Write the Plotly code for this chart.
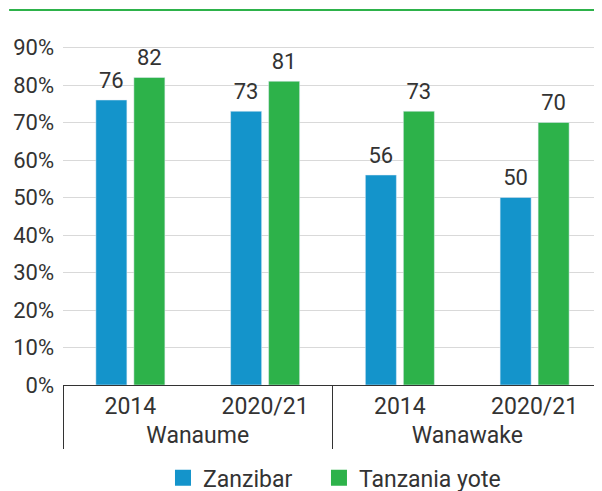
import plotly.graph_objects as go

groups = ["Wanaume", "Wanaume", "Wanawake", "Wanawake"]
years = ["2014", "2020/21", "2014", "2020/21"]
zanzibar = [76, 73, 56, 50]
tanzania = [82, 81, 73, 70]
series_names = ["Zanzibar", "Tanzania yote"]
y_ticks = [0, 10, 20, 30, 40, 50, 60, 70, 80, 90]
y_ticklabels = [f"{v}%" for v in y_ticks]

BLUE = "#1494CB"
GREEN = "#2DB24A"
TXT = "#333333"
FONT = "Roboto"
NUM = 22
WORD = 23

fig = go.Figure()
series = [(series_names[0], zanzibar, BLUE, "a"), (series_names[1], tanzania, GREEN, "b")]
for name, vals, col, og in series:
    fig.add_trace(go.Bar(x=[groups, years], y=vals, name=name,
                         marker_color=col, offsetgroup=og,
                         showlegend=False))
for name, vals, col, og in series:
    fig.add_trace(go.Scatter(x=[groups, years], y=vals, mode="markers+text",
                             offsetgroup=og, text=[str(v) for v in vals],
                             textposition="top center", cliponaxis=False,
                             marker=dict(size=9, opacity=0),
                             textfont=dict(size=NUM, color=TXT, family=FONT),
                             showlegend=False, hoverinfo="skip"))
# legend entries with square swatches, one legend box each
for (name, col), lg in zip([(series_names[0], BLUE), (series_names[1], GREEN)], ["legend", "legend2"]):
    fig.add_trace(go.Scatter(x=[None], y=[None], mode="markers", name=name,
                             marker=dict(symbol="square", size=16, color=col),
                             showlegend=True, legend=lg))

leg_common = dict(orientation="h", xanchor="left", y=-0.269, yanchor="middle",
                  font=dict(size=WORD, color=TXT), itemwidth=30)

fig.update_layout(
    width=602, height=491,
    margin=dict(l=55, r=8, t=32, b=114, autoexpand=False),
    paper_bgcolor="white", plot_bgcolor="white",
    font=dict(family=FONT, size=WORD, color=TXT),
    barmode="group", bargap=0.436, bargroupgap=0.184,
    scattermode="group", scattergap=0.436,
    showlegend=True,
    legend=dict(x=0.1855, **leg_common),
    legend2=dict(x=0.4749, **leg_common),
    xaxis=dict(type="multicategory", showline=True, linecolor=TXT, linewidth=1,
               showdividers=True, dividercolor=TXT, dividerwidth=1,
               automargin=False,
               tickfont=dict(size=WORD, color=TXT, family=FONT), ticks=""),
    yaxis=dict(range=[0, 92], tickvals=y_ticks, ticktext=y_ticklabels,
               showgrid=True, gridcolor="#D9D9D9", gridwidth=1,
               zeroline=False, showline=False, ticks="",
               ticklabelstandoff=8, automargin=False,
               tickfont=dict(size=NUM, color=TXT, family=FONT)),
    shapes=[dict(type="line", xref="paper", yref="paper",
                 x0=-0.1, x1=1.0, y0=1.087, y1=1.087,
                 line=dict(color=GREEN, width=2))],
)

fig.write_html("out.html")
